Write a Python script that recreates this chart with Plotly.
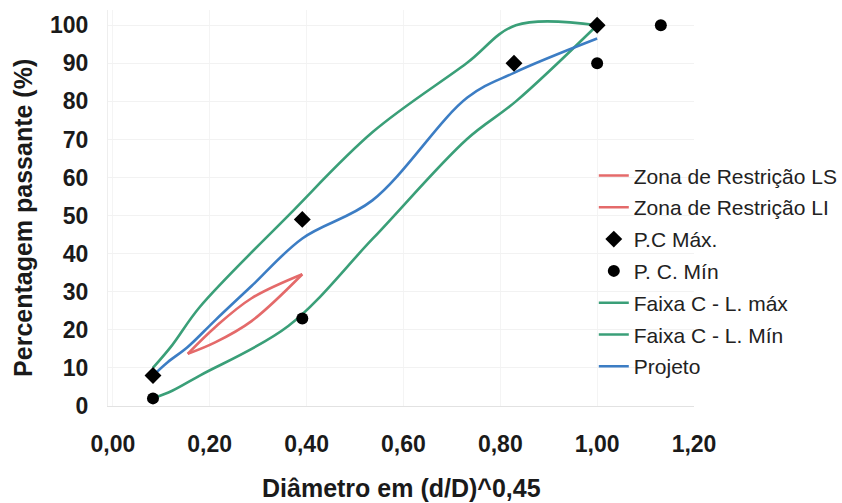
import plotly.graph_objects as go

# Superpave sieve positions (d/D)^0.45, D = 19 mm
x_superpave = [0.0829, 0.1132, 0.1546, 0.2112, 0.2864, 0.3912, 0.5359, 0.7320, 0.8283, 1.0, 1.1315]
# DNIT sieve positions (d/D)^0.45, D = 19.1 mm
x_dnit = [0.0827, 0.1226, 0.1795, 0.3623, 0.5371, 0.7303, 0.8322, 1.0]

# Restricted zone
zr_x = [0.1546, 0.2112, 0.2864, 0.3912]
zr_ls = [13.7, 20.7, 28.3, 34.6]
zr_li = [13.7, 16.7, 22.3, 34.6]

# Control points
pc_max_x = [0.0829, 0.3912, 0.8283, 1.0]
pc_max_y = [8, 49, 90, 100]
pc_min_x = [0.0829, 0.3912, 1.0, 1.1315]
pc_min_y = [2, 23, 90, 100]

# Faixa C
faixa_max = [10, 16, 26, 50, 72, 90, 100, 100]
faixa_min = [2, 4, 8, 21, 44, 70, 80, 100]

# Projeto
proj_x = [0.0829, 0.1132, 0.1546, 0.2112, 0.2864, 0.3912, 0.5359, 0.7320, 0.8283, 1.0]
proj_y = [8, 11.5, 15.5, 22.5, 31.5, 44, 54, 81, 87.5, 96.5]

RED = "#E46A6A"
GREEN = "#3A9F78"
BLUE = "#3C7DC4"
lw = 2.6

fig = go.Figure()

# legend entries (in reference order)
legend_items = [
    ("Zona de Restrição LS", "lines", dict(color=RED, width=lw), None),
    ("Zona de Restrição LI", "lines", dict(color=RED, width=lw), None),
    ("P.C Máx.", "markers", None, dict(symbol="diamond", size=13, color="black")),
    ("P. C. Mín", "markers", None, dict(symbol="circle", size=12, color="black")),
    ("Faixa C - L. máx", "lines", dict(color=GREEN, width=lw), None),
    ("Faixa C - L. Mín", "lines", dict(color=GREEN, width=lw), None),
    ("Projeto", "lines", dict(color=BLUE, width=lw), None),
]
for i, (name, mode, line, marker) in enumerate(legend_items):
    kw = dict(x=[None], y=[None], mode=mode, name=name, legendgroup=f"g{i}")
    if line is not None:
        kw["line"] = line
    if marker is not None:
        kw["marker"] = marker
    fig.add_trace(go.Scatter(**kw))

# actual data traces
fig.add_trace(go.Scatter(x=zr_x, y=zr_ls, mode="lines", name="Zona de Restrição LS",
                         line=dict(color=RED, width=lw, shape="spline"), legendgroup="g0", showlegend=False))
fig.add_trace(go.Scatter(x=zr_x, y=zr_li, mode="lines", name="Zona de Restrição LI",
                         line=dict(color=RED, width=lw, shape="spline"), legendgroup="g1", showlegend=False))
fig.add_trace(go.Scatter(x=x_dnit, y=faixa_max, mode="lines", name="Faixa C - L. máx",
                         line=dict(color=GREEN, width=lw, shape="spline"), legendgroup="g4", showlegend=False))
fig.add_trace(go.Scatter(x=x_dnit, y=faixa_min, mode="lines", name="Faixa C - L. Mín",
                         line=dict(color=GREEN, width=lw, shape="spline"), legendgroup="g5", showlegend=False))
fig.add_trace(go.Scatter(x=proj_x, y=proj_y, mode="lines", name="Projeto",
                         line=dict(color=BLUE, width=lw, shape="spline"), legendgroup="g6", showlegend=False))
fig.add_trace(go.Scatter(x=pc_max_x, y=pc_max_y, mode="markers", name="P.C Máx.",
                         marker=dict(symbol="diamond", size=13, color="black"), legendgroup="g2", showlegend=False))
fig.add_trace(go.Scatter(x=pc_min_x, y=pc_min_y, mode="markers", name="P. C. Mín",
                         marker=dict(symbol="circle", size=12, color="black"), legendgroup="g3", showlegend=False))

FONT = "Liberation Sans, Arial"
tickfont = dict(family=FONT, size=23, color="#1a1a1a", weight="bold")
titlefont = dict(family=FONT, size=25, color="#1a1a1a", weight="bold")

fig.update_layout(
    width=842, height=503,
    margin=dict(l=108, r=148, t=10, b=97, autoexpand=False),
    paper_bgcolor="white", plot_bgcolor="white",
    showlegend=True,
    legend=dict(x=0.829, y=0.633, xanchor="left", yanchor="top",
                font=dict(family=FONT, size=21, color="#222"),
                bgcolor="rgba(0,0,0,0)", tracegroupgap=1.5, traceorder="grouped"),
    xaxis=dict(range=[-0.01, 1.2], tickvals=[0, 0.2, 0.4, 0.6, 0.8, 1.0, 1.2],
               ticktext=["0,00", "0,20", "0,40", "0,60", "0,80", "1,00", "1,20"],
               tickfont=tickfont, showgrid=True, gridcolor="#f4f4f4",
               showline=True, linecolor="#e2e2e2", linewidth=1, zeroline=False,
               ticks="", ticklabelstandoff=17, automargin=False),
    yaxis=dict(range=[0, 104], tickvals=list(range(0, 101, 10)),
               tickfont=tickfont, showgrid=True, gridcolor="#f2f2f2",
               showline=True, linecolor="#eeeeee", zeroline=False,
               ticks="", ticklabelstandoff=14, automargin=False),
    annotations=[
        dict(text="Diâmetro em (d/D)^0,45", xref="paper", yref="paper",
             x=0.5, y=-0.207, xanchor="center", yanchor="middle",
             showarrow=False, font=titlefont),
        dict(text="Percentagem passante (%)", xref="paper", yref="paper",
             x=-0.145, y=0.475, xanchor="center", yanchor="middle", textangle=-90,
             showarrow=False, font=titlefont),
    ],
)

fig.write_html("out.html")
